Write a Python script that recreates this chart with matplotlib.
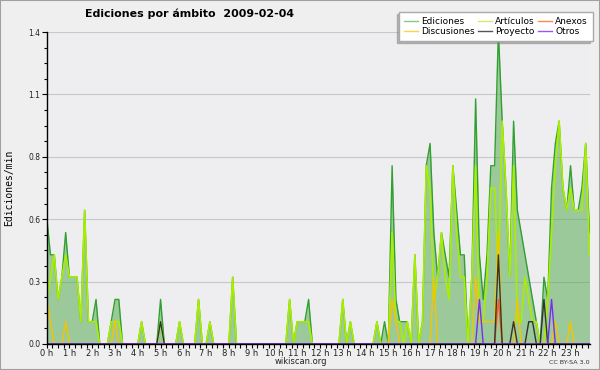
import numpy as np
import matplotlib
matplotlib.use('Agg')
import matplotlib.pyplot as plt
from matplotlib.lines import Line2D
from matplotlib.patches import Rectangle
from matplotlib.ticker import FixedLocator, MultipleLocator

##############################################################################
# edits per minute, 10-minute bins (6 per hour, one row per hour)

hour_labels = ['{} h'.format(h) for h in range(24)]

ediciones = [
    0.57, 0.4, 0.4, 0.2, 0.3, 0.5,
    0.3, 0.3, 0.3, 0.1, 0.6, 0.1,
    0.1, 0.2, 0, 0, 0, 0.1,
    0.2, 0.2, 0, 0, 0, 0,
    0, 0.1, 0, 0, 0, 0,
    0.2, 0, 0, 0, 0, 0.1,
    0, 0, 0, 0, 0.2, 0,
    0, 0.1, 0, 0, 0, 0,
    0, 0.3, 0, 0, 0, 0,
    0, 0, 0, 0, 0, 0,
    0, 0, 0, 0, 0.2, 0,
    0.1, 0.1, 0.1, 0.2, 0, 0,
    0, 0, 0, 0, 0, 0,
    0.2, 0, 0.1, 0, 0, 0,
    0, 0, 0, 0.1, 0, 0.1,
    0, 0.8, 0.2, 0.1, 0.1, 0.1,
    0, 0.4, 0, 0.1, 0.8, 0.9,
    0.5, 0.3, 0.5, 0.4, 0.3, 0.8,
    0.6, 0.4, 0.4, 0, 0.3, 1.1,
    0.4, 0.2, 0.4, 0.8, 0.8, 1.4,
    1.0, 0.7, 0.3, 1.0, 0.6, 0.5,
    0.4, 0.3, 0.2, 0.1, 0, 0.3,
    0.2, 0.7, 0.9, 1.0, 0.7, 0.6,
    0.8, 0.6, 0.6, 0.7, 0.9, 0.5,
]

articulos = [
    0.2, 0.3, 0.4, 0.2, 0.3, 0.4,
    0.3, 0.3, 0.3, 0.1, 0.6, 0.1,
    0.1, 0.1, 0, 0, 0, 0.1,
    0.1, 0.1, 0, 0, 0, 0,
    0, 0.1, 0, 0, 0, 0,
    0.1, 0, 0, 0, 0, 0.1,
    0, 0, 0, 0, 0.2, 0,
    0, 0.1, 0, 0, 0, 0,
    0, 0.3, 0, 0, 0, 0,
    0, 0, 0, 0, 0, 0,
    0, 0, 0, 0, 0.2, 0,
    0.1, 0.1, 0.1, 0.1, 0, 0,
    0, 0, 0, 0, 0, 0,
    0.2, 0, 0.1, 0, 0, 0,
    0, 0, 0, 0.1, 0, 0,
    0, 0.5, 0.1, 0.1, 0, 0.1,
    0, 0.4, 0, 0.1, 0.8, 0.7,
    0.2, 0.3, 0.5, 0.3, 0.2, 0.8,
    0.5, 0.3, 0.3, 0, 0.3, 0.8,
    0.1, 0.1, 0.3, 0.7, 0.7, 0.3,
    1.0, 0.7, 0.3, 0.8, 0.1, 0.1,
    0.3, 0.2, 0.1, 0.1, 0, 0,
    0.2, 0.5, 0.8, 1.0, 0.7, 0.6,
    0.7, 0.6, 0.6, 0.6, 0.9, 0.4,
]

# sparse series: {bin: value}
discusiones_pts = {0: 0.2, 1: 0.1, 5: 0.1, 18: 0.1, 91: 0.2, 92: 0.1,
                   102: 0.3, 113: 0.3, 114: 0.1, 115: 0.1, 116: 0.1,
                   117: 0.1, 118: 0.1, 119: 0.5, 124: 0.2, 134: 0.1,
                   138: 0.1}
anexos_pts = {119: 0.2}
proyecto_pts = {30: 0.1, 119: 0.4, 123: 0.1, 127: 0.1, 128: 0.1, 131: 0.2}
otros_pts = {114: 0.2, 133: 0.2}

##############################################################################

n = len(ediciones)
x = np.arange(n)


def dense(pts):
    out = np.zeros(n)
    for k, v in pts.items():
        out[k] = v
    return out


discusiones = dense(discusiones_pts)
anexos = dense(anexos_pts)
proyecto = dense(proyecto_pts)
otros = dense(otros_pts)

fig = plt.figure(figsize=(6, 3.7), dpi=100, facecolor='#efefef')
ax = fig.add_axes([0.0778, 0.0703, 0.9047, 0.8432], facecolor='#eeeef0')

ax.fill_between(x, 0, ediciones, color='#4ca646', alpha=0.5, lw=0, zorder=2)
ax.plot(x, ediciones, color='#30a030', lw=1.0, zorder=3)
ax.plot(x, articulos, color='#a8ee00', lw=1.2, zorder=4)
ax.plot(x, discusiones, color='#f5c400', lw=1.0, zorder=5)
ax.plot(x, anexos, color='#ff5a1e', lw=1.0, zorder=6)
ax.plot(x, proyecto, color='#333333', lw=1.0, zorder=6)
ax.plot(x, otros, color='#7b2cf0', lw=1.0, zorder=6)

ax.set_xlim(0, n - 1)
ax.set_ylim(0, 1.4)

yt = np.linspace(0, 1.4, 6)
ax.yaxis.set_major_locator(FixedLocator(yt))
ax.set_yticklabels(['{:.1f}'.format(v) for v in yt])
ax.yaxis.set_minor_locator(MultipleLocator(0.07))
ax.xaxis.set_major_locator(FixedLocator(np.arange(0, n, 6)))
ax.set_xticklabels(hour_labels)
ax.xaxis.set_minor_locator(MultipleLocator(1.5))

ax.tick_params(axis='y', which='major', length=3.6, width=0.8, pad=0.8,
               labelsize=5.5, labelcolor='#222222')
ax.tick_params(axis='y', which='minor', length=2.4, width=0.8)
ax.tick_params(axis='x', which='both', length=3.0, width=0.8, pad=0.3,
               labelsize=6, labelcolor='#222222')

ax.yaxis.grid(True, color='#c8c8c8', lw=0.8)
ax.set_axisbelow(True)
for s in ['top', 'right']:
    ax.spines[s].set_visible(False)
for s in ['left', 'bottom']:
    ax.spines[s].set_linewidth(1.0)
    ax.spines[s].set_zorder(10)

fig.text(0.142, 0.962, 'Ediciones por ámbito  2009-02-04',
         fontsize=7.9, fontweight='bold', va='center', ha='left')
fig.text(0.016, 1 - 188 / 370, 'Ediciones/min', rotation=90,
         fontsize=7, family='DejaVu Sans Mono', va='center', ha='center')
fig.text(0.502, 1 - 361.5 / 370, 'wikiscan.org', fontsize=6,
         va='center', ha='center', color='#222222')
fig.text(0.983, 1 - 362.5 / 370, 'CC BY-SA 3.0', fontsize=4.6,
         va='center', ha='right', color='#333333')

handles = [Line2D([], [], color='#80cc80', lw=1),
           Line2D([], [], color='#ffd24a', lw=1),
           Line2D([], [], color='#ccf060', lw=1),
           Line2D([], [], color='#555555', lw=1),
           Line2D([], [], color='#ff8855', lw=1),
           Line2D([], [], color='#9955ee', lw=1)]
labels = ['Ediciones', 'Discusiones', 'Artículos', 'Proyecto',
          'Anexos', 'Otros']
leg = fig.legend(handles, labels, ncol=3, loc='upper right',
                 bbox_to_anchor=(0.988, 0.968), fontsize=6.5,
                 frameon=True, fancybox=False, facecolor='white',
                 edgecolor='#aaaaaa', framealpha=1,
                 handlelength=1.5, handletextpad=0.4, columnspacing=0.35,
                 labelspacing=0.1, borderpad=0.55, borderaxespad=0,
                 shadow={'ox': -1.8, 'oy': -1.8, 'shade': 0.5})
leg.set_zorder(20)

fig.add_artist(Rectangle((0, 0), 1, 1, transform=fig.transFigure,
                         fill=False, edgecolor='#a0a0a0', lw=1.5))

plt.savefig('out.png', dpi=100)
plt.close()
